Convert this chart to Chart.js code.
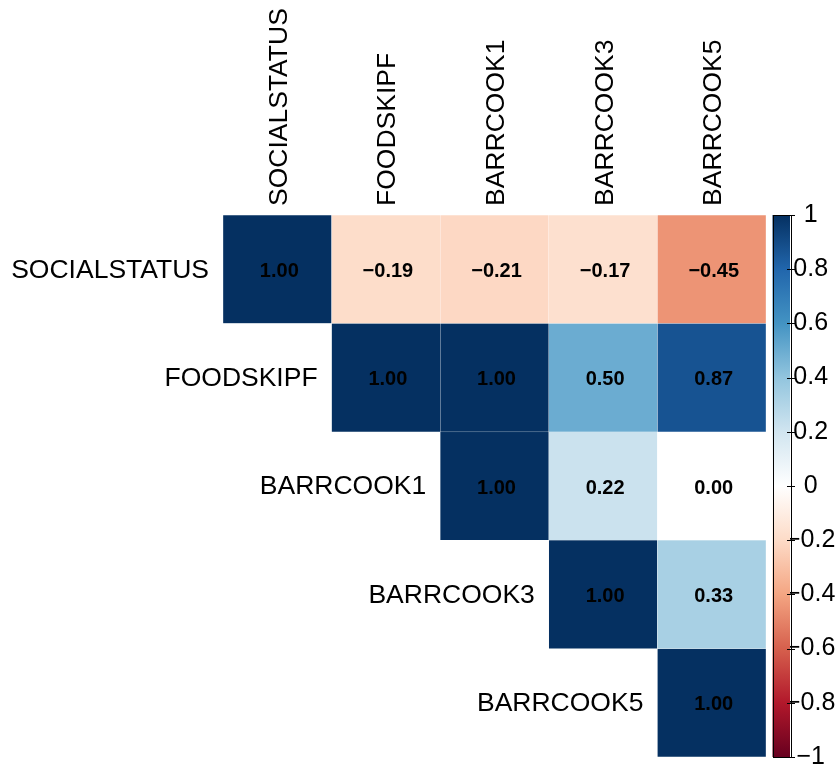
<!DOCTYPE html>
<html>
<head>
<meta charset="utf-8">
<script src="https://cdn.jsdelivr.net/npm/chart.js@4/dist/chart.umd.min.js"></script>
<style>
  html, body { margin: 0; padding: 0; background: #fff; }
  canvas { display: block; }
</style>
</head>
<body>
<canvas id="corrChart" width="839" height="766"></canvas>
<script>
// variables (same order for rows and columns)
const variables = ["SOCIALSTATUS", "FOODSKIPF", "BARRCOOK1", "BARRCOOK3", "BARRCOOK5"];

// upper triangle, one array per row (starting at the diagonal)
const row1 = [1.00, -0.19, -0.21, -0.17, -0.45];
const row2 = [1.00, 1.00, 0.50, 0.87];
const row3 = [1.00, 0.22, 0.00];
const row4 = [1.00, 0.33];
const row5 = [1.00];
const rows = [row1, row2, row3, row4, row5];

// colour legend ticks
const legendTicks = [1, 0.8, 0.6, 0.4, 0.2, 0, -0.2, -0.4, -0.6, -0.8, -1];

// RdBu palette from -1 to 1
const palette = ["#67001F", "#B2182B", "#D6604D", "#F4A582", "#FDDBC7", "#FFFFFF",
                 "#D1E5F0", "#92C5DE", "#4393C3", "#2166AC", "#053061"];

function hexToRgb(h) {
    return [parseInt(h.substr(1, 2), 16), parseInt(h.substr(3, 2), 16), parseInt(h.substr(5, 2), 16)];
}
function colorFor(v) {
    let t = (v + 1) / 2 * (palette.length - 1);
    let i = Math.min(Math.floor(t), palette.length - 2);
    let f = t - i;
    let a = hexToRgb(palette[i]), b = hexToRgb(palette[i + 1]);
    let c = a.map((x, k) => Math.round(x + (b[k] - x) * f));
    return `rgb(${c[0]},${c[1]},${c[2]})`;
}
function fmt(v) {
    let s = Math.abs(v).toFixed(2);
    return v < 0 ? "\u2212" + s : s;
}
function fmtTick(v) {
    let s = String(Math.abs(Math.round(v * 10) / 10));
    return v < -0.001 ? "\u2212" + s : s;
}

// one floating-bar dataset per row
const datasets = rows.map((vals, r) => {
    const data = [], colors = [], values = [];
    for (let c = 0; c < variables.length; c++) {
        if (c >= r) {
            const v = vals[c - r];
            data.push([r, r + 1]);
            colors.push(colorFor(v));
            values.push(v);
        } else {
            data.push(null);
            colors.push("rgba(0,0,0,0)");
            values.push(null);
        }
    }
    return {
        label: variables[r],
        data: data,
        values: values,
        backgroundColor: colors,
        borderColor: "rgba(255,255,255,0.3)",
        borderWidth: 0.5,
        borderSkipped: false,
        grouped: false,
        barPercentage: 1,
        categoryPercentage: 1
    };
});

const labelFont = "'Liberation Sans', Arial, sans-serif";
const labelSize = 26.5;

const cellText = {
    id: "cellText",
    afterDatasetsDraw(chart) {
        const ctx = chart.ctx;
        ctx.save();
        ctx.font = "bold 20px " + labelFont;
        ctx.fillStyle = "#000";
        ctx.textAlign = "center";
        ctx.textBaseline = "middle";
        chart.data.datasets.forEach((ds, di) => {
            const meta = chart.getDatasetMeta(di);
            meta.data.forEach((el, i) => {
                const v = ds.values[i];
                if (v === null) return;
                ctx.fillText(fmt(v), el.x + 2, (el.y + el.base) / 2 + 2);
            });
        });

        // row labels next to the diagonal
        const xs = chart.scales.x, ys = chart.scales.y;
        const half = (xs.getPixelForValue(1) - xs.getPixelForValue(0)) / 2;
        ctx.font = labelSize + "px " + labelFont;
        ctx.textAlign = "right";
        variables.forEach((name, r) => {
            ctx.fillText(name, xs.getPixelForValue(r) - half - 14, ys.getPixelForValue(r + 0.5) + 1);
        });
        ctx.restore();
    }
};

const colorBar = {
    id: "colorBar",
    afterDraw(chart) {
        const ctx = chart.ctx;
        const s = chart.scales.legend;
        const x0 = s.left + 6.5, x1 = s.left + 24;
        const yTop = s.getPixelForValue(1), yBot = s.getPixelForValue(-1);
        ctx.save();
        const g = ctx.createLinearGradient(0, yBot, 0, yTop);
        palette.forEach((c, i) => g.addColorStop(i / (palette.length - 1), c));
        ctx.fillStyle = g;
        ctx.fillRect(x0, yTop, x1 - x0, yBot - yTop);
        ctx.strokeStyle = "#000";
        ctx.lineWidth = 1;
        ctx.strokeRect(Math.round(x0) + 0.5, Math.round(yTop) + 0.5, Math.round(x1 - x0), Math.round(yBot - yTop));
        legendTicks.forEach(t => {
            const y = Math.round(s.getPixelForValue(t)) + 0.5;
            ctx.beginPath();
            ctx.moveTo(x1 - 3, y);
            ctx.lineTo(x1 + 5, y);
            ctx.stroke();
        });
        ctx.restore();
    }
};

new Chart(document.getElementById("corrChart").getContext("2d"), {
    type: "bar",
    data: { labels: variables, datasets: datasets },
    options: {
        responsive: false,
        animation: false,
        layout: { padding: { left: 223, right: 0, top: 0, bottom: 9 } },
        plugins: { legend: { display: false }, tooltip: { enabled: false } },
        scales: {
            x: {
                position: "top",
                grid: { display: false, drawTicks: false },
                border: { display: false },
                ticks: {
                    color: "#000",
                    font: { family: labelFont, size: labelSize },
                    minRotation: 90,
                    maxRotation: 90,
                    autoSkip: false,
                    labelOffset: 34,
                    padding: 9
                },
                afterFit(scale) {
                    scale.height = 215;
                    scale.paddingLeft = 0;
                    scale.paddingRight = 0;
                }
            },
            y: {
                display: false,
                min: 0,
                max: 5,
                reverse: true
            },
            legend: {
                type: "linear",
                position: "right",
                min: -1,
                max: 1,
                grid: { display: false, drawTicks: false },
                border: { display: false },
                afterBuildTicks(scale) {
                    scale.ticks = legendTicks.map(v => ({ value: v }));
                },
                ticks: {
                    color: "#000",
                    font: { family: labelFont, size: 25 },
                    crossAlign: "center",
                    padding: 20,
                    callback: (v) => fmtTick(v)
                },
                afterFit(scale) {
                    scale.width = 73;
                    scale.paddingTop = 0;
                    scale.paddingBottom = 0;
                }
            }
        }
    },
    plugins: [cellText, colorBar]
});
</script>
</body>
</html>
